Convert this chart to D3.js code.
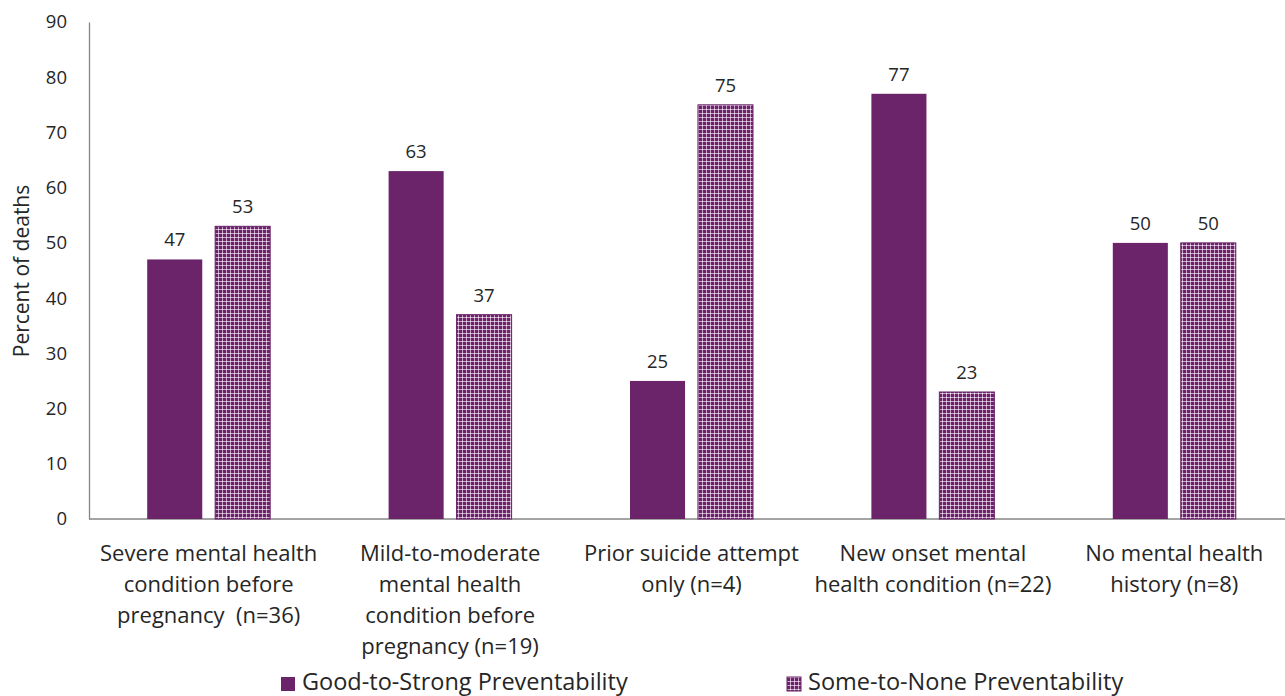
<!DOCTYPE html>
<html><head><meta charset="utf-8">
<script src="https://cdn.jsdelivr.net/npm/d3@7"></script>
<style>body{margin:0;background:#fff}svg{display:block}text{font-family:"Open Sans",sans-serif;fill:#262626;white-space:pre}</style>
</head><body><svg id="c" width="1285" height="696"></svg>
<script>
const categories = [
  ["Severe mental health","condition before","pregnancy  (n=36)"],
  ["Mild-to-moderate","mental health","condition before","pregnancy (n=19)"],
  ["Prior suicide attempt","only (n=4)"],
  ["New onset mental","health condition (n=22)"],
  ["No mental health","history (n=8)"]
];
const seriesNames = ["Good-to-Strong Preventability","Some-to-None Preventability"];
const goodStrong = [47, 63, 25, 77, 50];
const someNone = [53, 37, 75, 23, 50];
const yTicks = [0,10,20,30,40,50,60,70,80,90];

const FONT = "'Open Sans',sans-serif";
const svg = d3.select("#c");
const defs = svg.append("defs");
const pat = defs.append("pattern").attr("id","plaid").attr("patternUnits","userSpaceOnUse")
  .attr("width",4).attr("height",4);
pat.append("rect").attr("width",4).attr("height",4).attr("fill","#6b2369");
pat.append("rect").attr("x",0).attr("y",1).attr("width",4).attr("height",1).attr("fill","#c9a3c8");
pat.append("rect").attr("x",2).attr("y",0).attr("width",1).attr("height",4).attr("fill","#c9a3c8");
pat.append("rect").attr("x",2).attr("y",1).attr("width",1).attr("height",1).attr("fill","#f3e8f3");

const purple = "#6b2369";
const y = d3.scaleLinear().domain([0,90]).range([519,22]);
const x0 = d3.scaleBand().domain(d3.range(categories.length)).range([88,1295]);
const x1 = d3.scaleBand().domain([0,1]).range([-61.5,61.5]).paddingInner(0.19);

// y axis
const yAxis = d3.axisLeft(y).tickValues(yTicks).tickSize(0).tickPadding(22);
const gy = svg.append("g").attr("transform","translate(89,0)").call(yAxis);
gy.select(".domain").attr("stroke","#868686").attr("stroke-width",1.3);
gy.selectAll("text").attr("font-size",18.5).attr("font-family",FONT).attr("fill","#262626");

svg.append("line").attr("x1",89).attr("x2",1285).attr("y1",y(0)).attr("y2",y(0))
  .attr("stroke","#868686").attr("stroke-width",1.3);

svg.append("text").attr("transform","translate(29,271) rotate(-90)")
  .attr("text-anchor","middle").attr("font-size",21).text("Percent of deaths");

const data = [goodStrong, someNone];
const fills = [purple, "url(#plaid)"];
data.forEach((vals, s) => {
  const g = svg.append("g");
  g.selectAll("rect").data(vals).join("rect")
    .attr("x",(d,i)=>x0(i)+x0.bandwidth()/2+x1(s))
    .attr("y",d=>y(d)).attr("width",x1.bandwidth()).attr("height",d=>y(0)-y(d))
    .attr("fill",fills[s]).attr("stroke",s===1?purple:"none").attr("stroke-width",1);
  g.selectAll("text").data(vals).join("text")
    .attr("x",(d,i)=>x0(i)+x0.bandwidth()/2+x1(s)+x1.bandwidth()/2)
    .attr("y",d=>y(d)-13).attr("text-anchor","middle").attr("font-size",18.5).text(d=>d);
});

// category labels
categories.forEach((lines,i)=>{
  const t = svg.append("text").attr("text-anchor","middle").attr("font-size",22);
  lines.forEach((l,j)=>{
    t.append("tspan").attr("x",x0(i)+x0.bandwidth()/2).attr("y",561+j*31).text(l);
  });
});

// legend
const legX = [281, 787];
seriesNames.forEach((n,s)=>{
  svg.append("rect").attr("x",legX[s]).attr("y",677).attr("width",14).attr("height",14)
    .attr("fill",fills[s]).attr("stroke",s===1?purple:"none");
  svg.append("text").attr("x",legX[s]+21).attr("y",690).attr("font-size",23.5).text(n);
});
</script></body></html>
